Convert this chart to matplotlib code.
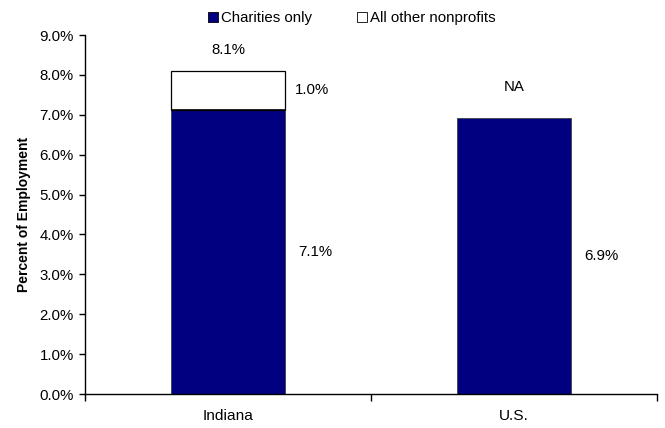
import matplotlib
matplotlib.use("Agg")
import matplotlib.pyplot as plt
import numpy as np
from matplotlib.patches import Patch

plt.rcParams["font.family"] = ["Liberation Sans", "DejaVu Sans"]

# data
categories = ["Indiana", "U.S."]
charities = [7.13, 6.91]
other_nonprofits = [0.97, 0.0]
charity_labels = ["7.1%", "6.9%"]
other_labels = ["1.0%", "NA"]
total_labels = ["8.1%", ""]

navy = "#000080"
x = np.arange(len(categories))
w = 0.4

fig = plt.figure(figsize=(6.65, 4.28), dpi=100)
ax = fig.add_axes([85 / 665, 1 - 394 / 428, 572 / 665, 359 / 428])

ax.bar(x, charities, w, color=navy, edgecolor="#404040", linewidth=0.6,
       label="Charities only", zorder=2)
ax.bar(x[:1], other_nonprofits[:1], w, bottom=charities[:1], color="white",
       edgecolor="black", linewidth=0.9, label="All other nonprofits", zorder=2)
# line separating segments
ax.hlines(charities[0], x[0] - w / 2, x[0] + w / 2, color="black", lw=1.2, zorder=3)

fs = 10.8
for i in range(len(categories)):
    ax.text(x[i] + w / 2 + 0.045, charities[i] / 2, charity_labels[i],
            fontsize=fs, ha="left", va="center")
    top = charities[i] + other_nonprofits[i]
    if other_labels[i] == "NA":
        ax.text(x[i], 7.7, other_labels[i], fontsize=fs, ha="center", va="center")
    else:
        ax.text(x[i] + w / 2 + 0.035, charities[i] + other_nonprofits[i] / 2,
                other_labels[i], fontsize=fs, ha="left", va="center")
    if total_labels[i]:
        ax.text(x[i], top + 0.52, total_labels[i], fontsize=fs,
                ha="center", va="center")

ax.set_xlim(-0.5, 1.5)
ax.set_ylim(0, 9)
ax.set_yticks(np.arange(0, 9.5, 1.0))
ax.set_yticklabels([f"{v:.1f}%" for v in np.arange(0, 9.5, 1.0)], fontsize=fs)
ax.set_xticks([-0.5, 0.5, 1.5])
ax.set_xticklabels([])
ax.set_xticks(x, minor=True)
ax.set_xticklabels(categories, minor=True, fontsize=fs + 0.3)
ax.tick_params(axis="x", which="minor", length=0, pad=11)
ax.tick_params(axis="x", which="major", length=5, width=1, direction="out")
ax.tick_params(axis="y", length=4, width=1, direction="out", pad=4)

for s in ["top", "right"]:
    ax.spines[s].set_visible(False)
ax.spines["left"].set_linewidth(1)
ax.spines["bottom"].set_linewidth(1)

ax.set_ylabel("Percent of Employment", fontsize=10, fontweight="bold", labelpad=6)

handles = [Patch(facecolor=navy, edgecolor="black", linewidth=0.6),
           Patch(facecolor="white", edgecolor="black", linewidth=0.6)]
fig.legend(handles, ["Charities only", "All other nonprofits"],
           loc="center", bbox_to_anchor=(352 / 665, 1 - 18 / 428), ncol=2,
           frameon=False, fontsize=fs, handlelength=0.65, handleheight=0.65,
           handletextpad=0.2, columnspacing=3.0)

fig.savefig("out.png", dpi=100)
